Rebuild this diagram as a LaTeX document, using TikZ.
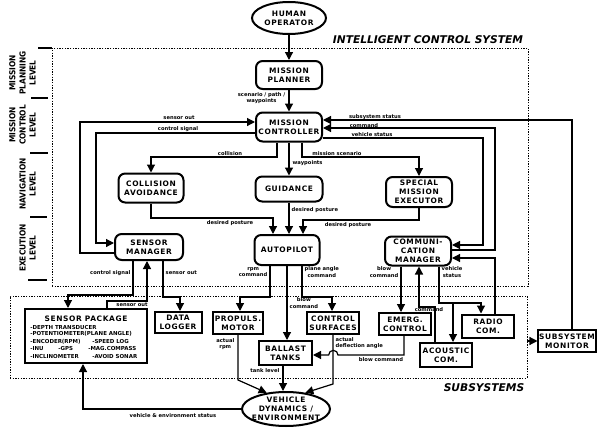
\documentclass[tikz,border=0pt]{standalone}
\usepackage{fontspec}
\usetikzlibrary{arrows.meta,shapes.geometric}
\newfontfamily\bfnt{DejaVu Sans}[LetterSpace=8]
\newfontfamily\smfnt{DejaVu Sans}
\newfontfamily\lvfnt{DejaVu Sans Condensed}
\newcommand\boxfnt{\bfnt\bfseries\fontsize{5.6}{6.9}\selectfont}
\newcommand\lblfnt{\smfnt\bfseries\fontsize{3.9}{4.6}\selectfont}
\newcommand\itemfnt{\smfnt\bfseries\fontsize{4.1}{5}\selectfont}
\newcommand\lvlfnt{\lvfnt\bfseries\fontsize{6.2}{7.6}\selectfont}
\newcommand\ttlfnt{\smfnt\bfseries\itshape\fontsize{8}{9}\selectfont}
\tikzset{
  sz/.style 2 args={minimum width=#1*0.75pt, minimum height=#2*0.75pt},
  box/.style={draw, line width=1.5pt, align=center, inner sep=0.5pt, font=\boxfnt},
  rbox/.style={box, rounded corners=5pt},
  oval/.style={ellipse, draw, line width=1.5pt, align=center, inner sep=-4pt, font=\boxfnt},
  lbl/.style={font=\lblfnt, inner sep=0.3pt, align=center},
  item/.style={font=\itemfnt, inner sep=0pt, anchor=base west},
  conn/.style={line width=0.9pt},
  arr/.style={conn, -{Triangle[width=6pt,length=6pt]}},
  frame/.style={draw, line width=0.5pt, dash pattern=on 1pt off 1pt, inner sep=0pt},
  lvl/.style={font=\lvlfnt, rotate=90, align=center, inner sep=0pt},
  sepline/.style={line width=0.8pt},
}
\begin{document}
\begin{tikzpicture}[x=0.75pt,y=-0.75pt]
\useasboundingbox (0,0) rectangle (601,432);

% frames of the two groups
\node[frame, sz={476}{238}] (ics) at (290,167) {};
\node[frame, sz={517}{82}] (subsys) at (268.5,337) {};
\node[font=\ttlfnt, inner sep=0pt] (icstitle) at (428,40) {INTELLIGENT CONTROL SYSTEM};
\node[font=\ttlfnt, inner sep=0pt] (subtitle) at (484,388) {SUBSYSTEMS};

% level captions
\node[lvl] (lvplan) at (22.5,73) {MISSION\\PLANNING\\LEVEL};
\node[lvl] (lvctrl) at (22.5,125) {MISSION\\CONTROL\\LEVEL};
\node[lvl] (lvnav) at (27.5,184) {NAVIGATION\\LEVEL};
\node[lvl] (lvexe) at (27.5,248) {EXECUTION\\LEVEL};
\draw[sepline] (38,48) -- (52,48);
\draw[sepline] (31,98) -- (48,98);
\draw[sepline] (30,153) -- (48,153);
\draw[sepline] (30,217) -- (47,217);
\draw[sepline] (28,280) -- (47,280);

% control system blocks
\node[oval, sz={74}{32}] (human) at (289,18) {HUMAN\\OPERATOR};
\node[rbox, sz={66}{28}] (planner) at (289,75) {MISSION\\PLANNER};
\node[rbox, sz={66}{29}] (controller) at (289,127) {MISSION\\CONTROLLER};
\node[rbox, sz={65}{29}] (collision) at (151,188) {COLLISION\\AVOIDANCE};
\node[rbox, sz={67}{25}] (guidance) at (289,189) {GUIDANCE};
\node[rbox, sz={66}{30}] (special) at (419,192) {SPECIAL\\MISSION\\EXECUTOR};
\node[rbox, sz={68}{26}] (sensormgr) at (149,247) {SENSOR\\MANAGER};
\node[rbox, sz={65}{30}] (autopilot) at (287,250) {AUTOPILOT};
\node[rbox, sz={66}{29}] (commmgr) at (418,251) {COMMUNI-\\CATION\\MANAGER};

% subsystems
\node[box, sz={122}{54}] (sensorpkg) at (86,336) {};
\node[font=\boxfnt, inner sep=0pt] (pkgtitle) at (86,319) {SENSOR PACKAGE};
\node[item] (i1) at (30,329) {-DEPTH TRANSDUCER};
\node[item] (i2) at (30,335.5) {-POTENTIOMETER(PLANE ANGLE)};
\node[item] (i3) at (30,343) {-ENCODER(RPM)};
\node[item] (i4) at (92,343) {-SPEED LOG};
\node[item] (i5) at (30,350.5) {-INU};
\node[item] (i6) at (58,350.5) {-GPS};
\node[item] (i7) at (88,350.5) {-MAG.COMPASS};
\node[item] (i8) at (30,358) {-INCLINOMETER};
\node[item] (i9) at (92,358) {-AVOID SONAR};
\node[box, sz={47}{21}] (datalogger) at (178,322.5) {DATA\\LOGGER};
\node[box, sz={50}{22}] (propuls) at (238,323) {PROPULS.\\MOTOR};
\node[box, sz={52}{22}] (ctrlsurf) at (333,323) {CONTROL\\SURFACES};
\node[box, sz={53}{24}] (ballast) at (285.5,353) {BALLAST\\TANKS};
\node[box, sz={52}{22}] (emerg) at (405,324) {EMERG.\\CONTROL};
\node[box, sz={52}{24}] (acoustic) at (446,355) {ACOUSTIC\\COM.};
\node[box, sz={52}{23}] (radio) at (488,326) {RADIO\\COM.};
\node[box, sz={56}{22}] (monitor) at (567,341) {SUBSYSTEM\\MONITOR};
\node[oval, sz={88}{34}] (vehicle) at (286,409) {VEHICLE\\DYNAMICS /\\ENVIRONMENT};

% planning and control
\draw[arr] (human) -- (planner);
\draw[arr] (planner) -- (controller);
\node[lbl, anchor=east] (lscen) at (286,98) {scenario / path /\\waypoints};
\draw[arr] (controller.south -| 277,0) -- (277,157) -| (collision.north);
\node[lbl] (lcoll) at (230,154) {collision};
\draw[arr] (controller) -- (guidance);
\node[lbl, anchor=west] (lwayp) at (292,163) {waypoints};
\draw[arr] (controller.south -| 302,0) -- (302,157) -| (special.north);
\node[lbl] (lmiss) at (337,154) {mission scenario};

% navigation to autopilot
\draw[arr] (collision.south) |- (273,218) -- (autopilot.north -| 273,0);
\node[lbl] (ldp1) at (230,223) {desired posture};
\draw[arr] (guidance.south) -- (autopilot.north -| guidance.south);
\node[lbl, anchor=west] (ldp2) at (291,210) {desired posture};
\draw[arr] (special.south) |- (303,220) -- (autopilot.north -| 303,0);
\node[lbl] (ldp3) at (348,225) {desired posture};

% sensor manager loops
\draw[arr] (sensormgr.west |- 0,253) -| (80,122) -- (controller.west |- 0,122);
\node[lbl] (lso1) at (179,118) {sensor out};
\draw[arr] (controller.west |- 0,133) -| (96,243) -- (sensormgr.west |- 0,243);
\node[lbl] (lcs1) at (178,129.5) {control signal};

% feedback from the right side
\draw[arr] (monitor.north -| 572,0) |- (controller.east |- 0,120);
\node[lbl] (lsub) at (375,117) {subsystem status};
\draw[arr] (commmgr.east |- 0,250) -| (495,128) -- (controller.east |- 0,128);
\node[lbl] (lcmd) at (364,125.5) {command};
\draw[arr] (controller.east |- 0,138) -| (483,245) -- (commmgr.east |- 0,245);
\node[lbl] (lvs1) at (372,135) {vehicle status};
\draw[arr] (radio.north -| 495,0) |- (commmgr.east |- 0,258);

% sensor manager to subsystems
\draw[arr] (sensormgr.south -| 133,0) |- (68,295) -- (sensorpkg.north -| 68,0);
\node[lbl, anchor=east] (lcs2) at (131,273) {control signal};
\draw[arr] (sensorpkg.north -| 107,0) |- (147,301) -- (sensormgr.south -| 147,0);
\node[lbl] (lso2) at (132,304.5) {sensor out};
\draw[arr] (sensormgr.south -| 163,0) |- (180,297) -- (datalogger.north -| 180,0);
\node[lbl, anchor=west] (lso3) at (165,273) {sensor out};

% autopilot to actuators
\draw[arr] (autopilot.south -| 270,0) |- (240,297) -- (propuls.north -| 240,0);
\node[lbl, anchor=east] (lrpm) at (268,272) {rpm\\command};
\draw[arr] (autopilot.south -| 287,0) -- (ballast.north -| 287,0);
\node[lbl, anchor=west] (lblow1) at (289,303) {blow\\command};
\draw[arr] (autopilot.south -| 302,0) |- (332,297) -- (ctrlsurf.north -| 332,0);
\node[lbl, anchor=west] (lplane) at (304,272) {plane angle\\command};

% communication manager to subsystems
\draw[arr] (commmgr.south -| 401,0) -- (emerg.north -| 401,0);
\node[lbl, anchor=east] (lblow2) at (399,272) {blow\\command};
\draw[arr] (commmgr.south -| 439,0) |- (481,303) -- (radio.north -| 481,0);
\coordinate (vsjoin) at (453,303);
\draw[arr] (vsjoin) -- (acoustic.north -| vsjoin);
\node[lbl, anchor=west] (lvs2) at (441,272) {vehicle\\status};
\draw[arr] (acoustic.north -| 435,0) |- (419,307) -- (commmgr.south -| 419,0);
\node[lbl] (lcmd2) at (429,310) {command};
\draw[arr] (emerg.south -| 404,0) |- (338,355) arc[start angle=0, end angle=180, radius=3.5pt] -- (ballast.east |- 0,355);
\node[lbl] (lblow3) at (381,360) {blow command};

% actuators to vehicle dynamics
\draw[arr] (propuls.south -| 238,0) -- (238,380) -- (vehicle.140);
\node[lbl, anchor=east] (lact) at (235,344) {actual\\rpm};
\draw[arr] (ballast.south -| 283,0) -- (vehicle.north -| 283,0);
\node[lbl, anchor=east] (ltank) at (280,371) {tank level};
\draw[arr] (ctrlsurf.south -| 333,0) -- (333,384) -- (vehicle.40);
\node[lbl, anchor=west, align=left] (ldefl) at (335,343) {actual\\deflection angle};
\draw[arr] (vehicle.west) -| (sensorpkg.south -| 83,0);
\node[lbl] (lenv) at (173,415.5) {vehicle \& environment status};

% subsystems to monitor
\draw[arr] (subsys.east |- monitor) -- (monitor.west);
\end{tikzpicture}
\end{document}
